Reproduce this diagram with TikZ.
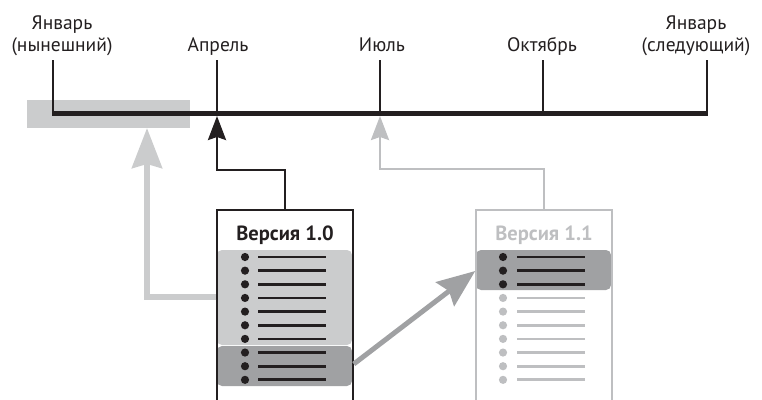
\documentclass[tikz,border=0pt]{standalone}
\usepackage{fontspec}
\setmainfont{PT Sans}
\usetikzlibrary{arrows.meta,positioning}
\definecolor{lineBlack}{RGB}{35,31,32}
\definecolor{paleGray}{RGB}{203,204,205}
\definecolor{midGray}{RGB}{160,161,163}
\definecolor{fadeGray}{RGB}{190,191,193}
\begin{document}
\begin{tikzpicture}[x=1pt,y=-1pt,
    lbl/.style={font=\fontsize{19.5}{22}\selectfont, align=center, inner sep=0pt, anchor=base, text=lineBlack},
    ttl/.style={font=\fontsize{20.5}{22}\selectfont\bfseries, inner sep=0pt, anchor=base},
    tickline/.style={draw=lineBlack, line width=1.1pt},
    verbox/.style={minimum width=136pt, minimum height=200pt, anchor=north, inner sep=0pt},
    hilite/.style={rounded corners=5pt},
    thinarr/.style={line width=2.6pt, -{Stealth[length=24pt,width=18pt,inset=3pt]}},
    fatarr/.style={line width=6pt, -{Stealth[length=40pt,width=30pt,inset=4pt]}}
  ]
  \useasboundingbox (0,0) rectangle (762,399);
  \clip (0,0) rectangle (762,399);
  % Highlighted span of the year
  \node[fill=paleGray, minimum width=163pt, minimum height=28pt, inner sep=0pt] (span) at (108.5,114) {};
  % Months on the timeline
  \coordinate (jan) at (53,113);
  \coordinate (apr) at (217,113);
  \coordinate (jul) at (380,113);
  \coordinate (oct) at (543,113);
  \coordinate (jan2) at (707,113);
  \foreach \m in {jan,apr,jul,oct,jan2}
    \draw[tickline] (\m) -- (\m |- 0,60);
  \draw[lineBlack, line width=5pt] ([xshift=-1pt]jan) -- ([xshift=1pt]jan2);
  \node[lbl] (ljan) at (62,51) {Январь\\(нынешний)};
  \node[lbl] (lapr) at (218,51) {Апрель};
  \node[lbl] (ljul) at (382,51) {Июль};
  \node[lbl] (loct) at (542,51) {Октябрь};
  \node[lbl] (ljan2) at (696,51) {Январь\\(следующий)};
  % Version 1.0
  \fill[paleGray, hilite] (217,250) rectangle (352,345);
  \fill[midGray, hilite] (217,346) rectangle (352,386);
  \node[verbox, draw=lineBlack, line width=1.5pt] (v10) at (285,209) {};
  \node[ttl, text=lineBlack] (t10) at (285,240) {Версия 1.0};
  \foreach \i in {0,...,9} {
    \fill[lineBlack] (245,257+13.65*\i) circle (4.1pt);
    \draw[lineBlack, line width=2.8pt] (258,257+13.65*\i) -- (326,257+13.65*\i);
  }
  % Version 1.1
  \fill[midGray, hilite] (476,250) rectangle (611,290);
  \node[verbox, draw=fadeGray, line width=1.5pt] (v11) at (544,209) {};
  \node[ttl, text=fadeGray] (t11) at (544,240) {Версия 1.1};
  \foreach \i in {0,...,9} {
    \ifnum\i<3 \def\rowcol{lineBlack}\else\def\rowcol{fadeGray}\fi
    \fill[\rowcol] (503,257+13.65*\i) circle (4.1pt);
    \draw[\rowcol, line width=2.8pt] (517,257+13.65*\i) -- (585,257+13.65*\i);
  }
  % Arrows
  \coordinate (aprLow) at (217,116);
  \coordinate (julLow) at (380,116);
  \coordinate (spanHit) at (147,128);
  \draw[thinarr, lineBlack] (v10.north) -- ++(0,-39) -| (aprLow);
  \draw[thinarr, fadeGray] (v11.north) -- ++(0,-40) -| (julLow);
  \draw[fatarr, paleGray] (v10.west |- 0,297) -| (spanHit);
  \draw[fatarr, midGray, line width=5pt, -{Stealth[length=38pt,width=30pt,inset=5pt]}] (v10.east |- 0,364) -- (v11.west |- 0,271);
\end{tikzpicture}
\end{document}
